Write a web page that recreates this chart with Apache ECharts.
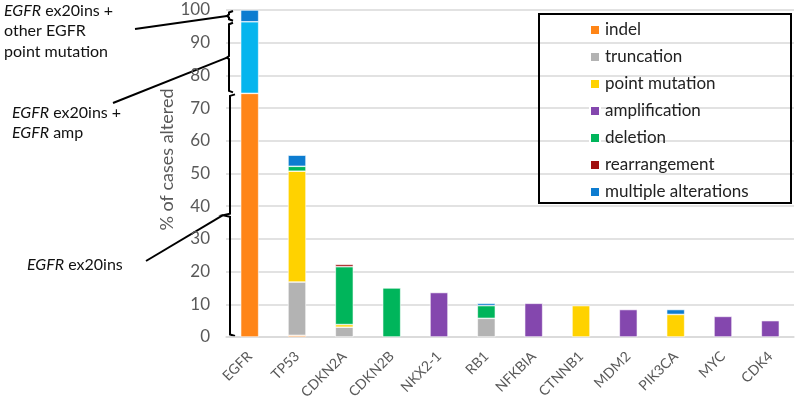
<!DOCTYPE html>
<html>
<head>
<meta charset="utf-8">
<script src="https://cdn.jsdelivr.net/npm/echarts@6/dist/echarts.min.js"></script>
<style>
  html, body { margin: 0; padding: 0; background: #fff; }
  #myChart { width: 800px; height: 406px; }
</style>
</head>
<body>
<div id="myChart"></div>
<script>
// 基因列表（x轴）
const genes = ['EGFR', 'TP53', 'CDKN2A', 'CDKN2B', 'NKX2-1', 'RB1', 'NFKBIA', 'CTNNB1', 'MDM2', 'PIK3CA', 'MYC', 'CDK4'];
const yTicks = [0, 10, 20, 30, 40, 50, 60, 70, 80, 90, 100];

// 各类变异比例（%）
const indel         = [74.5, 0.5, null, null, null, null, null, null, null, null, null, null];
const truncation    = [null, 16.3, 3.0, null, null, 5.7, null, null, null, null, null, null];
const pointMutation = [null, 33.9, 0.8, null, null, null, null, 9.6, null, 6.9, null, null];
const amplification = [null, null, null, null, 13.6, null, 10.3, null, 8.4, null, 6.3, 5.0];
const deletion      = [null, 1.5, 17.7, 15.0, null, 3.9, null, null, null, null, null, null];
const rearrangement = [null, null, 0.7, null, null, null, null, null, null, null, null, null];
const egfrAmp       = [21.9, null, null, null, null, null, null, null, null, null, null, null]; // EGFR ex20ins + EGFR amp
const multiple      = [3.6, 3.4, null, null, null, 0.7, null, null, null, 1.5, null, null];

const font = 'Lato, "Open Sans", sans-serif';
const grey = '#595959';

const mk = (name, data, color) => ({
  name, type: 'bar', stack: 'total', data,
  barWidth: 18,
  itemStyle: { color, borderColor: '#fff', borderWidth: 0.6 }
})

const myChart = echarts.init(document.getElementById('myChart'));
const option = {
  animation: false,
  textStyle: { fontFamily: font },
  grid: { left: 226, right: 6, top: 10, bottom: 69 },
  legend: {
    orient: 'vertical',
    left: 584,
    top: 16,
    icon: 'rect',
    itemWidth: 10,
    itemHeight: 10,
    itemGap: 9,
    data: ['indel', 'truncation', 'point mutation', 'amplification', 'deletion', 'rearrangement', 'multiple alterations'],
    textStyle: { fontFamily: font, fontSize: 17, color: '#222', lineHeight: 18 }
  },
  xAxis: {
    type: 'category',
    data: genes,
    axisTick: { show: false },
    axisLine: { lineStyle: { color: '#d9d9d9', width: 1.5 } },
    axisLabel: { rotate: 45, color: grey, fontSize: 14, fontFamily: font, margin: 17 }
  },
  yAxis: {
    type: 'value',
    min: 0, max: 100, interval: 10,
    name: '% of cases altered',
    nameLocation: 'middle',
    nameGap: 50,
    nameMoveOverlap: false,
    nameTextStyle: { color: grey, fontSize: 18, fontFamily: font, padding: [0, 0, 0, 28] },
    axisLabel: { color: grey, fontSize: 17, fontFamily: font, margin: 16 },
    splitLine: { lineStyle: { color: '#d9d9d9', width: 1.5 } }
  },
  series: [
    mk('indel', indel, '#ff8517'),
    mk('truncation', truncation, '#b3b3b3'),
    mk('point mutation', pointMutation, '#ffd200'),
    mk('amplification', amplification, '#8447ae'),
    mk('deletion', deletion, '#00b55b'),
    mk('rearrangement', rearrangement, '#a00f0f'),
    mk('EGFR ex20ins + EGFR amp', egfrAmp, '#05b5ee'),
    mk('multiple alterations', multiple, '#0d7cd0')
  ]
};
myChart.setOption(option);

// 左侧括号注释
const py = v => myChart.convertToPixel({ yAxisIndex: 0 }, v);
const bracket = (x, v1, v2, tip, point) => {
  const y1 = py(v1) + 1, y2 = py(v2) - 1, ym = (y1 + y2) / 2;
  return {
    type: 'polyline',
    shape: { points: [[x + tip, y1], [x, y1 + 1.5], [x, ym - 1.5], [x - point, ym], [x, ym + 1.5], [x, y2 - 1.5], [x + tip, y2]] },
    style: { stroke: '#000', lineWidth: 2, fill: null }
  };
};
const e0 = 0, e1 = indel[0], e2 = e1 + egfrAmp[0], e3 = e2 + multiple[0];
const line = (x1, y1, x2, y2) => ({
  type: 'line', shape: { x1, y1, x2, y2 }, style: { stroke: '#000', lineWidth: 2 }
});
const label = (x, y, text) => ({
  type: 'text', x, y,
  style: {
    text, fontFamily: font, fontSize: 16, fill: '#111', lineHeight: 20.5,
    rich: { i: { fontStyle: 'italic', fontFamily: font, fontSize: 16, fill: '#111' } },
    verticalAlign: 'middle'
  }
});
const b3m = (py(e0) + py(e1)) / 2, b2m = (py(e1) + py(e2)) / 2, b1m = (py(e2) + py(e3)) / 2;
myChart.setOption({
  graphic: [
    { type: 'rect', shape: { x: 539, y: 14, width: 252, height: 189 }, style: { stroke: '#000', lineWidth: 2, fill: null } },
    bracket(230, e1, e0, 5, 7),
    bracket(229, e2, e1, 4, 2),
    bracket(229, e3, e2, 4, 2),
    line(227, b1m, 135, 29),
    line(227, b2m, 113, 103),
    line(223, b3m, 146, 261),
    label(4, 31, '{i|EGFR} ex20ins +\nother EGFR\npoint mutation'),
    label(12, 123, '{i|EGFR} ex20ins +\n{i|EGFR} amp'),
    label(27, 265, '{i|EGFR} ex20ins')
  ]
});
</script>
</body>
</html>
